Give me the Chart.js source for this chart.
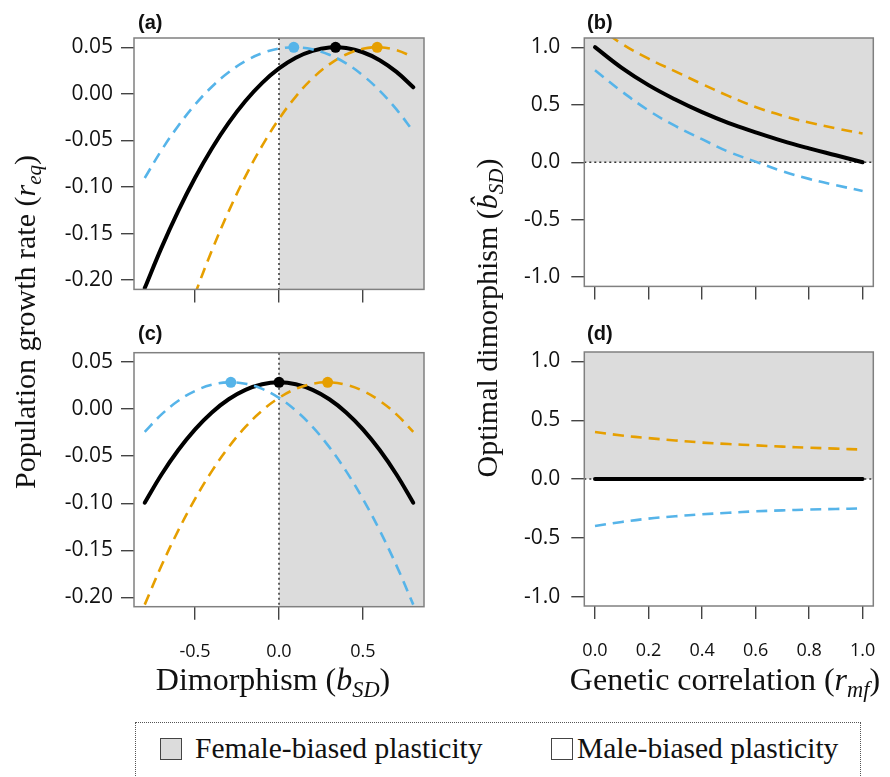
<!DOCTYPE html>
<html><head><meta charset="utf-8">
<script src="https://cdn.jsdelivr.net/npm/chart.js@4"></script>
<style>
html,body{margin:0;padding:0;background:#fff;}
#wrap{position:relative;width:890px;height:777px;overflow:hidden;background:#fff;}
canvas{position:absolute;}
.t{position:absolute;white-space:nowrap;line-height:1;color:#111;}
.serif{font-family:"Liberation Serif","DejaVu Serif",serif;}
.pl{font-family:"Liberation Sans",Arial,sans-serif;font-weight:bold;font-size:20px;}
.rot{transform:rotate(-90deg);transform-origin:50% 50%;text-align:center;}
sub{font-size:70%;vertical-align:-0.3em;line-height:0;}
#leg{position:absolute;left:135px;top:722px;width:726px;height:90px;border:1px dotted #555;box-sizing:border-box;}
.sq{position:absolute;width:22px;height:22px;border:1.5px solid #444;box-sizing:border-box;}
</style></head>
<body><div id="wrap">
<canvas id="ca" width="445" height="310" style="left:0;top:0"></canvas>
<canvas id="cb" width="445" height="310" style="left:445px;top:0"></canvas>
<canvas id="cc" width="445" height="370" style="left:0;top:310px"></canvas>
<canvas id="cd" width="445" height="370" style="left:445px;top:310px"></canvas>

<div class="t pl" style="left:138px;top:12px">(a)</div>
<div class="t pl" style="left:587px;top:12px">(b)</div>
<div class="t pl" style="left:138px;top:323px">(c)</div>
<div class="t pl" style="left:587px;top:323px">(d)</div>

<div class="t serif rot" style="font-size:30px;width:420px;left:-185px;top:307px">Population growth rate (<i>r</i><sub><i>eq</i></sub>)</div>
<div class="t serif rot" style="font-size:30px;width:420px;left:277px;top:303px">Optimal dimorphism (<i>b̂</i><sub><i>SD</i></sub>)</div>
<div class="t serif" style="font-size:32px;width:400px;left:73px;top:663px;text-align:center">Dimorphism (<i>b</i><sub><i>SD</i></sub>)</div>
<div class="t serif" style="font-size:32px;width:420px;left:515px;top:663px;text-align:center">Genetic correlation (<i>r</i><sub><i>mf</i></sub>)</div>

<div id="leg"></div>
<div class="sq" style="left:160px;top:738px;background:#dcdcdc"></div>
<div class="t serif" style="font-size:29.5px;left:195px;top:734px">Female-biased plasticity</div>
<div class="sq" style="left:551px;top:738px;background:#fff"></div>
<div class="t serif" style="font-size:29.5px;left:577px;top:734px">Male-biased plasticity</div>
</div>
<script>
// ---- data ----
const bSD = [-0.8,-0.7,-0.6,-0.5,-0.4,-0.3,-0.2,-0.1,0,0.1,0.2,0.3,0.4,0.5,0.6,0.7,0.8];
const growthA_black  = [-0.2086,-0.1651,-0.1256,-0.0901,-0.0586,-0.0312,-0.0077,0.0118,0.0273,0.0388,0.0462,0.0497,0.0492,0.0447,0.0362,0.0236,0.0071];
const growthA_blue   = [-0.0904,-0.0605,-0.0343,-0.0115,0.0076,0.0232,0.0352,0.0437,0.0486,0.0500,0.0478,0.0420,0.0327,0.0198,0.0033,-0.0167,-0.0402];
const growthA_orange = [-0.3816,-0.3215,-0.2659,-0.2149,-0.1683,-0.1262,-0.0886,-0.0556,-0.0270,-0.0029,0.0167,0.0317,0.0423,0.0484,0.0500,0.0470,0.0396];
const peaksA_x = [0.088, 0.337, 0.585];
const peaksA_y = [0.050, 0.050, 0.050];

const growthC_black  = [-0.0995,-0.0695,-0.0435,-0.0215,-0.0035,0.0105,0.0205,0.0265,0.0285,0.0265,0.0205,0.0105,-0.0035,-0.0215,-0.0435,-0.0695,-0.0995];
const growthC_blue   = [-0.0241,-0.0056,0.0089,0.0194,0.0259,0.0285,0.0270,0.0215,0.0120,-0.0015,-0.0189,-0.0404,-0.0659,-0.0954,-0.1289,-0.1663,-0.2078];
const growthC_orange = [-0.2078,-0.1663,-0.1289,-0.0954,-0.0659,-0.0404,-0.0189,-0.0015,0.0120,0.0215,0.0270,0.0285,0.0259,0.0194,0.0089,-0.0056,-0.0241];
const peaksC_x = [-0.287, 0.0, 0.29];
const peaksC_y = [0.0285, 0.0285, 0.0285];

const rMF = [0,0.1,0.2,0.3,0.4,0.5,0.6,0.7,0.8,0.9,1.0];
const optB_black  = [1.00,0.82,0.67,0.545,0.435,0.34,0.26,0.185,0.12,0.06,0.00];
const optB_blue   = [0.80,0.615,0.45,0.315,0.20,0.09,0.005,-0.078,-0.145,-0.20,-0.25];
const optB_orange = [1.20,1.03,0.90,0.79,0.68,0.575,0.48,0.405,0.345,0.295,0.25];
const optD_black  = [0,0,0,0,0,0,0,0,0,0,0];
const optD_blue   = [-0.40,-0.365,-0.337,-0.317,-0.30,-0.287,-0.275,-0.267,-0.26,-0.255,-0.25];
const optD_orange = [0.40,0.37,0.348,0.328,0.31,0.297,0.286,0.275,0.266,0.258,0.25];

const growthTicks = [-0.20,-0.15,-0.10,-0.05,0.00,0.05];
const optTicks = [-1.0,-0.5,0.0,0.5,1.0];
const dimTicks = [-0.5,0.0,0.5];
const corrTicks = [0.0,0.2,0.4,0.6,0.8,1.0];

// ---- styles ----
const BLUE = '#56B4E9', ORANGE = '#E69F00', BLACK = '#000000';

const decor = {
  id: 'decor',
  beforeDatasetsDraw(chart, args, opts) {
    const {ctx, chartArea: a, scales: {x, y}} = chart;
    ctx.save();
    ctx.fillStyle = '#dcdcdc';
    if (opts.axis === 'x') {
      const px = x.getPixelForValue(0);
      ctx.fillRect(px, a.top, a.right - px, a.bottom - a.top);
    } else {
      const py = y.getPixelForValue(0);
      ctx.fillRect(a.left, a.top, a.right - a.left, py - a.top);
    }
    ctx.strokeStyle = '#333';
    ctx.lineWidth = 1.5;
    ctx.setLineDash([2, 3]);
    ctx.beginPath();
    if (opts.axis === 'x') {
      const px = x.getPixelForValue(0);
      ctx.moveTo(px, a.top); ctx.lineTo(px, a.bottom);
    } else {
      const py = y.getPixelForValue(0);
      ctx.moveTo(a.left, py); ctx.lineTo(a.right, py);
    }
    ctx.stroke();
    ctx.restore();
  },
  afterDatasetsDraw(chart) {
    const {ctx, chartArea: a} = chart;
    ctx.save();
    ctx.strokeStyle = '#808080';
    ctx.lineWidth = 1.5;
    ctx.strokeRect(a.left, a.top, a.right - a.left, a.bottom - a.top);
    ctx.restore();
  }
};

function line(xs, ys, color, solid) {
  return {
    data: xs.map((x, i) => ({x: x, y: ys[i]})),
    borderColor: color,
    borderWidth: solid ? 4 : 2.6,
    borderDash: solid ? [] : [11, 7],
    borderCapStyle: solid ? 'round' : 'butt',
    pointRadius: 0,
    tension: 0.4,
    capBezierPoints: false,
    clip: 0,
    fill: false
  };
}

function dots(px, py) {
  return {
    data: px.map((x, i) => ({x: x, y: py[i]})),
    showLine: false,
    pointRadius: 5.5,
    pointHoverRadius: 5.5,
    pointBorderWidth: 0,
    pointBackgroundColor: [BLUE, BLACK, ORANGE],
    clip: false
  };
}

function panel(id, datasets, o) {
  new Chart(document.getElementById(id), {
    type: 'line',
    data: {datasets: datasets},
    plugins: [decor],
    options: {
      responsive: false,
      animation: false,
      events: [],
      elements: {line: {capBezierPoints: false}},
      layout: {padding: {left: 0, top: o.top, right: o.right, bottom: 0}},
      plugins: {legend: {display: false}, tooltip: {enabled: false}, decor: {axis: o.shade}},
      scales: {
        x: {
          type: 'linear', min: o.xmin, max: o.xmax,
          afterBuildTicks: s => { s.ticks = o.xticks.map(v => ({value: v})); },
          afterFit: s => { s.height = o.xh; s.paddingLeft = 0; s.paddingRight = 0; },
          border: {display: false},
          grid: {drawOnChartArea: false, drawTicks: true, tickLength: 13, color: '#444', lineWidth: 1.4},
          ticks: {display: o.xlabels, padding: 21, autoSkip: false, maxRotation: 0, color: '#111',
                  font: {family: 'Open Sans', size: 18},
                  callback: v => Number(v).toFixed(1)}
        },
        y: {
          type: 'linear', min: o.ymin, max: o.ymax,
          afterBuildTicks: s => { s.ticks = o.yticks.map(v => ({value: v})); },
          afterFit: s => { s.width = o.yw; },
          border: {display: false},
          grid: {drawOnChartArea: false, drawTicks: true, tickLength: 13, color: '#444', lineWidth: 1.4},
          ticks: {padding: o.ypad, autoSkip: false, color: '#111',
                  font: {family: 'Open Sans', size: 21},
                  callback: v => Number(v).toFixed(o.ydec)}
        }
      }
    }
  });
}

panel('ca', [
  line(bSD, growthA_blue, BLUE, false),
  line(bSD, growthA_orange, ORANGE, false),
  line(bSD, growthA_black, BLACK, true),
  dots(peaksA_x, peaksA_y)
], {top: 38, right: 21, xh: 18, yw: 134, xmin: -0.864, xmax: 0.864, ymin: -0.21, ymax: 0.06,
    xticks: dimTicks, yticks: growthTicks, xlabels: false, ydec: 2, ypad: 8, shade: 'x'});

panel('cb', [
  line(rMF, optB_blue, BLUE, false),
  line(rMF, optB_orange, ORANGE, false),
  line(rMF, optB_black, BLACK, true)
], {top: 38, right: 16.7, xh: 18, yw: 139.3, xmin: -0.04, xmax: 1.04, ymin: -1.08, ymax: 1.08,
    xticks: corrTicks, yticks: optTicks, xlabels: false, ydec: 1, ypad: 11, shade: 'y'});

panel('cc', [
  line(bSD, growthC_blue, BLUE, false),
  line(bSD, growthC_orange, ORANGE, false),
  line(bSD, growthC_black, BLACK, true),
  dots(peaksC_x, peaksC_y)
], {top: 42.7, right: 21, xh: 73.3, yw: 134, xmin: -0.864, xmax: 0.864, ymin: -0.21, ymax: 0.06,
    xticks: dimTicks, yticks: growthTicks, xlabels: true, ydec: 2, ypad: 8, shade: 'x'});

panel('cd', [
  line(rMF, optD_blue, BLUE, false),
  line(rMF, optD_orange, ORANGE, false),
  line(rMF, optD_black, BLACK, true)
], {top: 42, right: 16.7, xh: 74, yw: 139.3, xmin: -0.04, xmax: 1.04, ymin: -1.08, ymax: 1.08,
    xticks: corrTicks, yticks: optTicks, xlabels: true, ydec: 1, ypad: 11, shade: 'y'});
</script>
</body></html>
